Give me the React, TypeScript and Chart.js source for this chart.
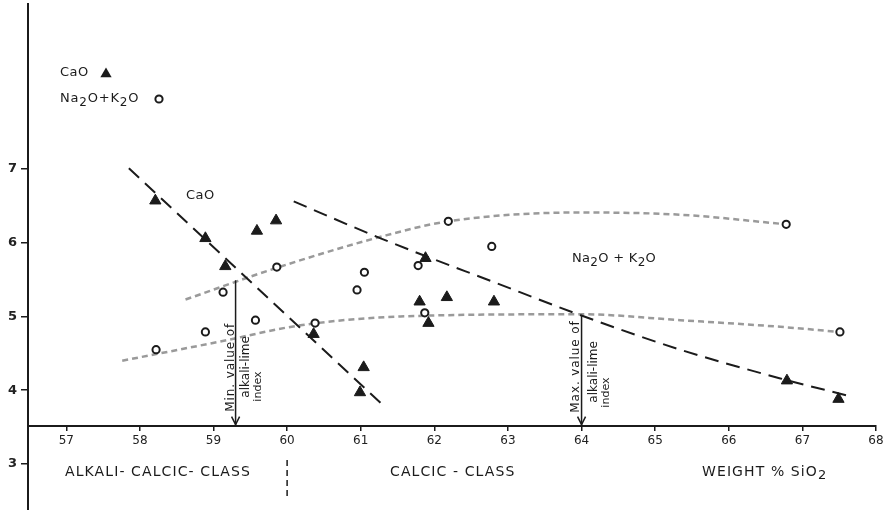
import React, { useEffect, useRef } from 'react';
import { Chart, registerables } from 'chart.js';

Chart.register(...registerables);

const FONT = '"DejaVu Sans", "Liberation Sans", sans-serif';
const INK = '#1b1b1b';
const GREY = '#9a9a9a';

// Axis ticks
const xTickValues = [57, 58, 59, 60, 61, 62, 63, 64, 65, 66, 67, 68];
const yTickValues = [3, 4, 5, 6, 7];

// CaO samples (filled triangles)
const caoSiO2 = [58.21, 58.89, 59.16, 59.59, 59.85, 60.36, 61.04, 60.99, 61.88, 61.8, 62.17, 62.81, 61.92, 66.79, 67.49];
const caoValues = [6.57, 6.06, 5.68, 6.16, 6.3, 4.76, 4.31, 3.97, 5.79, 5.2, 5.26, 5.2, 4.91, 4.13, 3.88];

// Na2O + K2O samples (open circles)
const alkSiO2 = [58.22, 58.89, 59.13, 59.57, 59.86, 60.38, 60.95, 61.05, 61.78, 62.19, 62.78, 61.87, 66.78, 67.51];
const alkValues = [4.55, 4.79, 5.33, 4.95, 5.67, 4.91, 5.36, 5.6, 5.69, 6.29, 5.95, 5.05, 6.25, 4.79];

// CaO trend lines (black long dashes)
const caoTrendASiO2 = [57.85, 61.31];
const caoTrendAValues = [7.01, 3.79];
const caoTrendBSiO2 = [60.09, 61.27, 62.85, 63.98, 65.34, 66.7, 67.6];
const caoTrendBValues = [6.56, 6.06, 5.45, 5.02, 4.55, 4.16, 3.93];

// Na2O + K2O trend curves (grey short dashes)
const alkUpperSiO2 = [58.62, 59.86, 61.27, 62.19, 63.98, 65.34, 66.78];
const alkUpperValues = [5.23, 5.66, 6.08, 6.29, 6.41, 6.38, 6.25];
const alkLowerSiO2 = [57.76, 59.09, 60.18, 61.54, 63.98, 65.34, 66.7, 67.51];
const alkLowerValues = [4.4, 4.66, 4.88, 5.0, 5.03, 4.95, 4.86, 4.79];

// Alkali-lime index arrows
const minIndexSiO2 = 59.3;
const minIndexTop = 5.49;
const maxIndexSiO2 = 64.0;
const maxIndexTop = 5.02;
const classBoundarySiO2 = 60;

// Axis ranges
const xMin = 56.48;
const xMax = 68;
const yMin = 2.376;
const yMax = 9.237;
const axisCrossY = 3.52;

const pts = (xs: number[], ys: number[]) => xs.map((v, i) => ({ x: v, y: ys[i] }));

function richText(ctx: CanvasRenderingContext2D, parts: [string, boolean][], x: number, y: number, size: number, spacing = 0) {
  let cx = x;
  ctx.textAlign = 'left';
  ctx.textBaseline = 'middle';
  (ctx as any).letterSpacing = `${spacing}px`;
  for (const [t, sub] of parts) {
    ctx.font = `${sub ? size - 1 : size}px ${FONT}`;
    ctx.fillText(t, cx, sub ? y + 4 : y);
    cx += ctx.measureText(t).width;
  }
  (ctx as any).letterSpacing = '0px';
  return cx;
}

function vText(ctx: CanvasRenderingContext2D, text: string, bx: number, by: number, size: number, spacing = 0) {
  ctx.save();
  ctx.translate(bx, by);
  ctx.rotate(-Math.PI / 2);
  ctx.font = `${size}px ${FONT}`;
  (ctx as any).letterSpacing = `${spacing}px`;
  ctx.textAlign = 'left';
  ctx.textBaseline = 'alphabetic';
  ctx.fillText(text, 0, 0);
  ctx.restore();
}

function triangle(ctx: CanvasRenderingContext2D, cx: number, cy: number, r: number) {
  ctx.beginPath();
  for (let k = 0; k < 3; k++) {
    const a = (k * 2 * Math.PI) / 3;
    const px = cx + Math.sin(a) * r;
    const py = cy - Math.cos(a) * r;
    if (k === 0) ctx.moveTo(px, py);
    else ctx.lineTo(px, py);
  }
  ctx.closePath();
  ctx.fill();
}

const annotate = {
  id: 'annotate',
  afterDatasetsDraw(chart: any) {
    const { ctx } = chart;
    const xs = chart.scales.x;
    const ys = chart.scales.y;
    const axisY = ys.getPixelForValue(axisCrossY);
    ctx.save();
    ctx.fillStyle = INK;
    ctx.strokeStyle = INK;

    // arrow heads
    ctx.lineWidth = 1.5;
    [minIndexSiO2, maxIndexSiO2].forEach((v) => {
      const px = xs.getPixelForValue(v);
      ctx.beginPath();
      ctx.moveTo(px - 4, axisY - 9);
      ctx.lineTo(px, axisY - 1);
      ctx.lineTo(px + 4, axisY - 9);
      ctx.stroke();
    });

    // rotated arrow captions
    const minX = xs.getPixelForValue(minIndexSiO2);
    vText(ctx, 'Min. value of', minX - 2, axisY - 14, 12, 0.9);
    vText(ctx, 'alkali-lime', minX + 13, axisY - 28, 12, 0);
    vText(ctx, 'index', minX + 25, axisY - 24, 11, 0);
    const maxX = xs.getPixelForValue(maxIndexSiO2);
    vText(ctx, 'Max. value of', maxX - 3, axisY - 13, 12, 0.9);
    vText(ctx, 'alkali-lime', maxX + 15, axisY - 23, 12, 0);
    vText(ctx, 'index', maxX + 27, axisY - 18, 11, 0);

    // legend
    richText(ctx, [['CaO', false]], 60, 73, 13, 0.5);
    triangle(ctx, 106, 74, 6.5);
    richText(ctx, [['Na', false], ['2', true], ['O+K', false], ['2', true], ['O', false]], 60, 99, 13, 0.8);
    ctx.lineWidth = 2;
    ctx.beginPath();
    ctx.arc(159, 99, 3.6, 0, Math.PI * 2);
    ctx.stroke();

    // in-plot labels
    richText(ctx, [['CaO', false]], 186, 196, 13, 0.5);
    richText(ctx, [['Na', false], ['2', true], ['O + K', false], ['2', true], ['O', false]], 572, 259, 13, 0.3);

    // class labels
    richText(ctx, [['ALKALI- CALCIC- CLASS', false]], 65, 472, 14, 1.1);
    richText(ctx, [['CALCIC - CLASS', false]], 390, 472, 14, 1.1);
    richText(ctx, [['WEIGHT % SiO', false], ['2', true]], 702, 472, 14, 1.1);

    // class boundary
    const bx = xs.getPixelForValue(classBoundarySiO2);
    ctx.lineWidth = 1.5;
    ctx.setLineDash([6, 4]);
    ctx.beginPath();
    ctx.moveTo(bx, 460);
    ctx.lineTo(bx, 498);
    ctx.stroke();
    ctx.setLineDash([]);
    ctx.restore();
  },
};

export default function App() {
  const ref = useRef<HTMLCanvasElement>(null);
  useEffect(() => {
    if (!ref.current) return;
    const lineBase = { showLine: true, pointRadius: 0, pointHoverRadius: 0, fill: false, order: 2 };
    const chart = new Chart(ref.current, {
      type: 'scatter',
      data: {
        datasets: [
          {
            label: 'CaO',
            data: pts(caoSiO2, caoValues),
            pointStyle: 'triangle',
            pointRadius: 6.5,
            backgroundColor: INK,
            borderColor: INK,
            borderWidth: 1,
            order: 0,
          },
          {
            label: 'Na2O+K2O',
            data: pts(alkSiO2, alkValues),
            pointStyle: 'circle',
            pointRadius: 3.6,
            backgroundColor: '#ffffff',
            borderColor: INK,
            borderWidth: 2,
            order: 0,
          },
          {
            ...lineBase,
            label: 'CaO trend A',
            data: pts(caoTrendASiO2, caoTrendAValues),
            borderColor: INK,
            borderWidth: 2,
            borderDash: [14, 8],
          },
          {
            ...lineBase,
            label: 'CaO trend B',
            data: pts(caoTrendBSiO2, caoTrendBValues),
            borderColor: INK,
            borderWidth: 2,
            borderDash: [14, 8],
            cubicInterpolationMode: 'monotone',
          },
          {
            ...lineBase,
            label: 'Alkali upper',
            data: pts(alkUpperSiO2, alkUpperValues),
            borderColor: GREY,
            borderWidth: 2.5,
            borderDash: [6, 4],
            cubicInterpolationMode: 'monotone',
          },
          {
            ...lineBase,
            label: 'Alkali lower',
            data: pts(alkLowerSiO2, alkLowerValues),
            borderColor: GREY,
            borderWidth: 2.5,
            borderDash: [6, 4],
            cubicInterpolationMode: 'monotone',
          },
          {
            ...lineBase,
            label: 'Min index',
            data: pts([minIndexSiO2, minIndexSiO2], [minIndexTop, axisCrossY]),
            borderColor: INK,
            borderWidth: 1.5,
            order: 1,
          },
          {
            ...lineBase,
            label: 'Max index',
            data: pts([maxIndexSiO2, maxIndexSiO2], [maxIndexTop, axisCrossY]),
            borderColor: INK,
            borderWidth: 1.5,
            order: 1,
          },
        ] as any,
      },
      options: {
        animation: false,
        responsive: false,
        devicePixelRatio: 1,
        layout: { autoPadding: false, padding: { top: 4, right: 17, bottom: 0, left: 0 } },
        plugins: { legend: { display: false }, tooltip: { enabled: false } },
        scales: {
          x: {
            type: 'linear',
            min: xMin,
            max: xMax,
            position: { y: axisCrossY } as any,
            afterBuildTicks: (s: any) => {
              s.ticks = xTickValues.map((v) => ({ value: v }));
            },
            afterFit: (s: any) => {
              s.height = 0;
              s.paddingLeft = 0;
              s.paddingRight = 0;
              s.paddingTop = 0;
              s.paddingBottom = 0;
            },
            grid: { drawOnChartArea: false, drawTicks: true, tickLength: 4, color: INK, lineWidth: 1.5 },
            border: { display: true, color: INK, width: 2 },
            ticks: { color: '#222', font: { family: FONT, size: 12 }, padding: 4, maxRotation: 0, autoSkip: false },
          },
          y: {
            type: 'linear',
            min: yMin,
            max: yMax,
            position: 'left',
            afterBuildTicks: (s: any) => {
              s.ticks = yTickValues.map((v) => ({ value: v }));
            },
            afterFit: (s: any) => {
              s.width = 28;
              s.paddingTop = 0;
              s.paddingBottom = 0;
            },
            grid: { drawOnChartArea: false, drawTicks: true, tickLength: 7, color: INK, lineWidth: 1.5 },
            border: { display: true, color: INK, width: 2 },
            ticks: { color: '#222', font: { family: FONT, size: 13, weight: 'bold' }, padding: 4 },
          },
        },
      } as any,
      plugins: [annotate],
    });
    return () => chart.destroy();
  }, []);

  return (
    <div style={{ position: 'fixed', left: 0, top: 0, width: 893, height: 510, background: '#ffffff' }}>
      <canvas ref={ref} width={893} height={510} style={{ display: 'block' }} />
    </div>
  );
}
